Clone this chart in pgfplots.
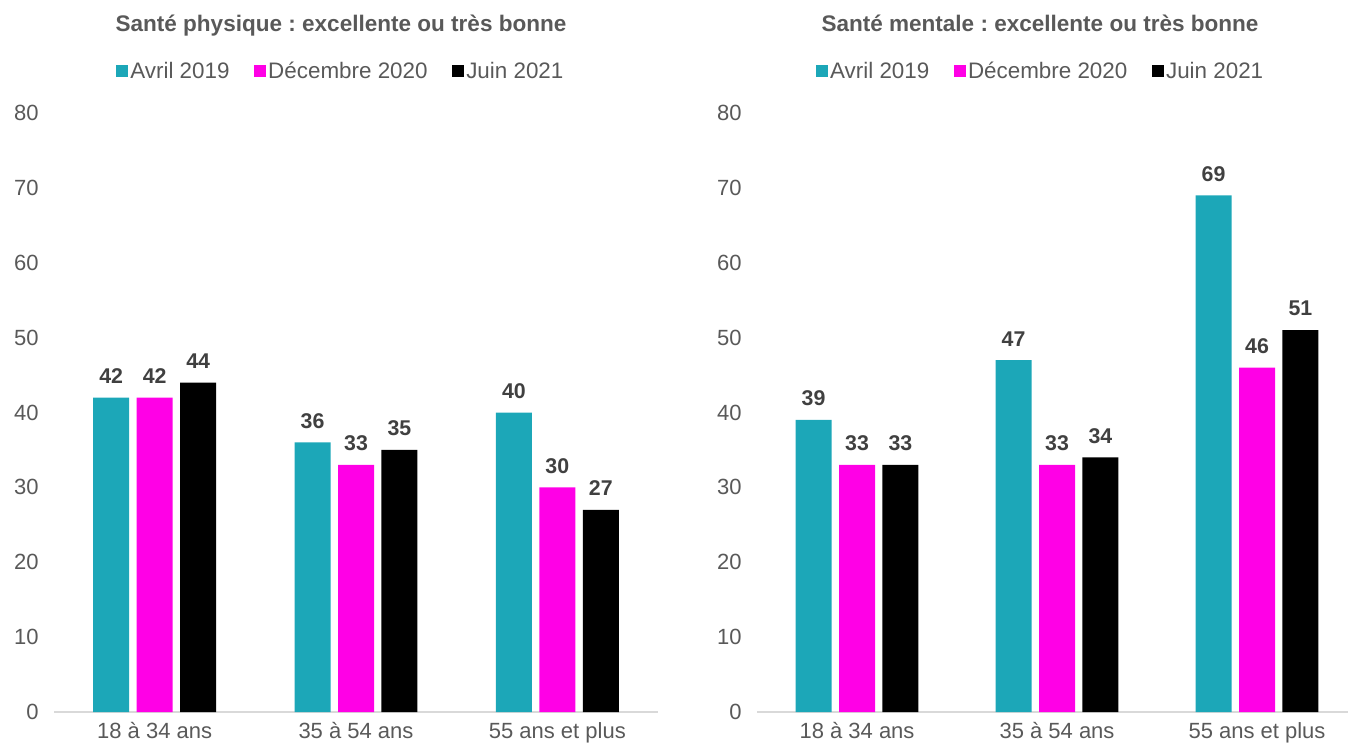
\documentclass[border=0pt]{standalone}
\usepackage{pgfplots}
\pgfplotsset{compat=1.18}
\usepackage{fontspec}
\setmainfont{Liberation Sans}
\frenchspacing
\definecolor{cteal}{HTML}{1CA7B8}
\definecolor{cmag}{HTML}{FF00E6}
\definecolor{ctxt}{HTML}{595959}
\definecolor{clab}{HTML}{404040}
\definecolor{caxis}{HTML}{D9D9D9}
\pgfplotsset{
  sqlegend/.style={legend image code/.code={\fill[##1] (0pt,-4.5pt) rectangle (9pt,4.5pt);}},
  panel/.style={
    scale only axis,
    ybar, bar width=27pt,
    ymin=0, ymax=80, ytick={0,10,...,80},
    xmin=-0.5,
    xtick={0,1,2},
    xticklabels={18 à 34 ans,35 à 54 ans,55 ans et plus},
    axis y line*=left,
    axis x line*=bottom,
    y axis line style={draw=none},
    x axis line style={draw=caxis, line width=1.5pt, -},
    major tick length=0pt,
    tick style={draw=none},
    /pgf/number format/assume math mode=true,
    tick label style={font=\fontsize{16.5}{18}\selectfont, color=ctxt},
    xticklabel style={anchor=base, yshift=-20pt},
    yticklabel style={anchor=east, xshift=-8pt},
    nodes near coords,
    nodes near coords style={font=\bfseries\fontsize{16}{18}\selectfont, color=clab, yshift=7pt},
    legend columns=3,
    legend style={draw=none, fill=none, font=\fontsize{16.8}{18}\selectfont, text=ctxt,
      anchor=center, /tikz/every even column/.append style={column sep=17pt},
      nodes={inner sep=1.5pt}},
    clip=false,
  }
}
\begin{document}
\begin{tikzpicture}
\useasboundingbox (0,0) rectangle (1011pt,558pt);
% left panel
\begin{axis}[panel, at={(40.5pt,24pt)}, anchor=south west,
  width=453pt, height=449.25pt, xmax=2.5,
  legend style={at={(0.475,1.07)}}]
\addplot[sqlegend, fill=cteal, draw=none, bar shift=-32.6pt] coordinates {(0,42) (1,36) (2,40)};
\addplot[sqlegend, fill=cmag, draw=none, bar shift=0pt] coordinates {(0,42) (1,33) (2,30)};
\addplot[sqlegend, fill=black, draw=none, bar shift=32.6pt] coordinates {(0,44) (1,35) (2,27)};
\legend{Avril 2019,Décembre 2020,Juin 2021}
\end{axis}
% right panel
\begin{axis}[panel, at={(567.75pt,24pt)}, anchor=south west,
  width=443.25pt, height=449.25pt, xmax=2.455,
  legend style={at={(0.48,1.07)}}]
\addplot[sqlegend, fill=cteal, draw=none, bar shift=-32.6pt] coordinates {(0,39) (1,47) (2,69)};
\addplot[sqlegend, fill=cmag, draw=none, bar shift=0pt] coordinates {(0,33) (1,33) (2,46)};
\addplot[sqlegend, fill=black, draw=none, bar shift=32.6pt] coordinates {(0,33) (1,34) (2,51)};
\legend{Avril 2019,Décembre 2020,Juin 2021}
\end{axis}
\node[anchor=base, font=\bfseries\fontsize{16.9}{18}\selectfont, text=ctxt] at (255.75pt,534pt) {Santé physique : excellente ou très bonne};
\node[anchor=base, font=\bfseries\fontsize{16.9}{18}\selectfont, text=ctxt] at (780pt,534pt) {Santé mentale : excellente ou très bonne};
\end{tikzpicture}
\end{document}
